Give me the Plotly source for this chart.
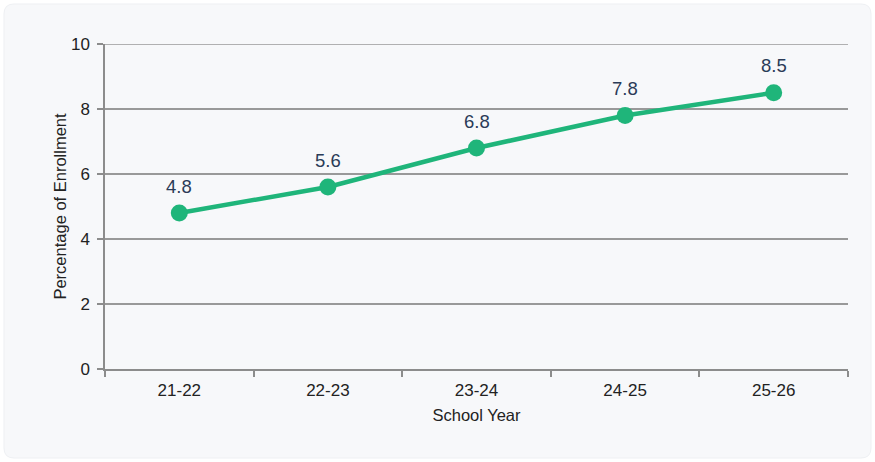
import plotly.graph_objects as go

school_years = ["21-22", "22-23", "23-24", "24-25", "25-26"]
enrollment_pct = [4.8, 5.6, 6.8, 7.8, 8.5]
y_ticks = [0, 2, 4, 6, 8, 10]

W, H = 875, 462
L, R, T, B = 105, 27, 44, 93
pw, ph = W - L - R, H - T - B
FONT = "Liberation Sans, Arial, sans-serif"
GRID = "#999999"
AXIS = "#8c8c8c"
TEXT = "#222222"

def P(x, y):
    return f"{(x - L) / pw:.5f},{(H - B - y) / ph:.5f}"

# rounded light panel behind the chart
x0, y0, x1, y1, rad = 4, 4, 871, 458, 10
panel_path = (
    f"M {P(x0 + rad, y0)} L {P(x1 - rad, y0)} Q {P(x1, y0)} {P(x1, y0 + rad)} "
    f"L {P(x1, y1 - rad)} Q {P(x1, y1)} {P(x1 - rad, y1)} "
    f"L {P(x0 + rad, y1)} Q {P(x0, y1)} {P(x0, y1 - rad)} "
    f"L {P(x0, y0 + rad)} Q {P(x0, y0)} {P(x0 + rad, y0)} Z"
)

fig = go.Figure()
fig.add_trace(go.Scatter(
    x=school_years, y=enrollment_pct,
    mode="lines+markers",
    line=dict(color="#1fb57a", width=4.5),
    marker=dict(color="#1fb57a", size=17),
    cliponaxis=False,
    hoverinfo="skip",
))

annotations = [
    dict(x=yr, y=v, xref="x", yref="y", text=f"{v:.1f}", showarrow=False,
         yshift=27, font=dict(family=FONT, size=18.5, color="#2a3b57"))
    for yr, v in zip(school_years, enrollment_pct)
]

fig.update_layout(
    width=W, height=H,
    margin=dict(l=L, r=R, t=T, b=B),
    paper_bgcolor="#ffffff",
    plot_bgcolor="rgba(0,0,0,0)",
    showlegend=False,
    font=dict(family=FONT, size=16, color=TEXT),
    annotations=annotations,
    shapes=[
        dict(type="path", xref="paper", yref="paper", path=panel_path,
             fillcolor="#f7f8fa", line=dict(color="#eef0f3", width=1), layer="below"),
        # top gridline at the upper end of the range
        dict(type="line", xref="paper", yref="y", x0=0, x1=1, y0=10, y1=10,
             line=dict(color=GRID, width=1.5), layer="below"),
    ],
)
fig.update_xaxes(
    type="category",
    showgrid=False, showline=True, linecolor=AXIS, linewidth=1.5,
    ticks="outside", tickson="boundaries", ticklen=6, tickcolor=AXIS, tickwidth=1.5,
    ticklabelstandoff=5,
    tickfont=dict(size=17, color=TEXT),
    title=dict(text="School Year", font=dict(size=16.5, color=TEXT), standoff=10),
    range=[-0.5, 4.5], zeroline=False,
)
fig.update_yaxes(
    range=[0, 10], tickvals=y_ticks,
    showgrid=True, gridcolor=GRID, gridwidth=1.5,
    showline=True, linecolor=AXIS, linewidth=1.5,
    ticks="outside", ticklen=6, tickcolor=AXIS, tickwidth=1.5,
    ticklabelstandoff=4,
    tickfont=dict(size=17, color=TEXT),
    title=dict(text="Percentage of Enrollment", font=dict(size=16.5, color=TEXT), standoff=0),
    zeroline=False,
)

fig.write_html("out.html")
